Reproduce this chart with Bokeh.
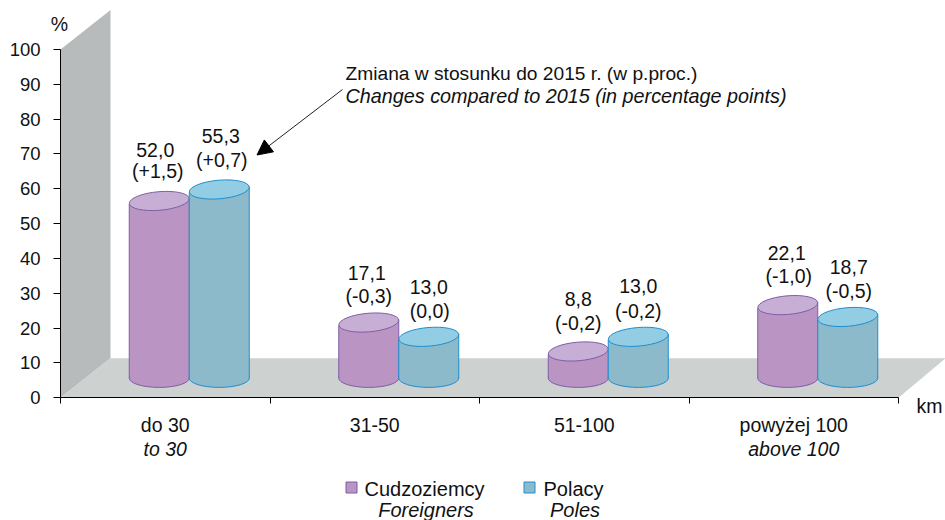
from bokeh.plotting import figure
from bokeh.embed import file_html
from bokeh.resources import INLINE
from bokeh.models import Range1d, LinearAxis, FixedTicker, Arrow, NormalHead
from bokeh.core.properties import value

# --- data ---------------------------------------------------------------
categories_pl = ["do 30", "31-50", "51-100", "powyżej 100"]
categories_en = ["to 30", "above 100"]
categories_en_at = [0, 3]
foreigners = [52.0, 17.1, 8.8, 22.1]
poles = [55.3, 13.0, 13.0, 18.7]
foreigners_change = ["(+1,5)", "(-0,3)", "(-0,2)", "(-1,0)"]
poles_change = ["(+0,7)", "(0,0)", "(-0,2)", "(-0,5)"]
foreigners_labels = ["52,0", "17,1", "8,8", "22,1"]
poles_labels = ["55,3", "13,0", "13,0", "18,7"]
y_ticks = [0, 10, 20, 30, 40, 50, 60, 70, 80, 90, 100]

# --- layout -------------------------------------------------------------
W, H = 945, 520
PAGE = 0
X0, X_UNIT = 60.0, 209.5      # page px of axis origin, px per category
Y0, Y_UNIT = 397.3, 3.483     # page px of value 0, px per percentage point
DEPTH_PX = (50.0, 39.5)
FONT = "Liberation Sans"
FS = "19.5px"
INK = "#111111"

def dx(px):  # page px -> data x
    return (px - X0) / X_UNIT
def dy(py):  # page py -> data y
    return (Y0 - py) / Y_UNIT

p = figure(width=W, height=H, output_backend="svg", toolbar_location=None,
           x_range=Range1d(dx(PAGE), dx(PAGE + W)),
           y_range=Range1d(dy(PAGE + H), dy(PAGE)),
           x_axis_type=None, y_axis_type=None,
           min_border=0, min_border_left=0, min_border_right=0,
           min_border_top=0, min_border_bottom=0, outline_line_color=None)
p.xgrid.visible = False
p.ygrid.visible = False

dpx, dpy = DEPTH_PX[0] / X_UNIT, DEPTH_PX[1] / Y_UNIT

# wall and floor
p.patch([0, dpx, dpx, 0], [100, 100 + dpy, dpy, 0], fill_color="#B7BBBB", line_color=None)
p.patch([0, dpx, dx(945), 4], [0, dpy, dpy, 0], fill_color="#CDD1D0", line_color=None)

# cylinders
BAR_W = 60.0
ELL_H = 18.6
TILT = 0.085
BASE_PX = 19.7      # bottom ellipse centre above the axis
TOP_SHIFT = 15.7    # top ellipse centre above the axis at value 0
GROUP_SHIFT = 24.0

def cylinder(vals, shift, fill, top_fill, edge):
    xc = [i + 0.5 + (GROUP_SHIFT + shift) / X_UNIT for i in range(len(vals))]
    base = [BASE_PX / Y_UNIT] * len(vals)
    top = [v + TOP_SHIFT / Y_UNIT for v in vals]
    hw = BAR_W / 2 / X_UNIT
    t = 3.0 / Y_UNIT
    p.ellipse(xc, base, width=BAR_W, height=ELL_H, width_units="screen", height_units="screen",
              fill_color=fill, line_color=edge, line_width=1)
    xs = [[x - hw, x - hw, x + hw, x + hw] for x in xc]
    ys = [[b, tp - t, tp + t, b] for b, tp in zip(base, top)]
    p.patches(xs, ys, fill_color=fill, line_color=None)
    p.segment([x - hw for x in xc], base, [x - hw for x in xc], [tp - t for tp in top], line_color=edge, line_width=1)
    p.segment([x + hw for x in xc], base, [x + hw for x in xc], [tp + t for tp in top], line_color=edge, line_width=1)
    p.ellipse(xc, top, width=BAR_W, height=ELL_H, angle=TILT, width_units="screen", height_units="screen",
              fill_color=top_fill, line_color=edge, line_width=1)
    return xc, top

PURPLE, PURPLE_TOP, PURPLE_EDGE = "#BA94C3", "#C6AED5", "#7D5FA5"
BLUE, BLUE_TOP, BLUE_EDGE = "#8DBACB", "#93CDE3", "#1E8ECF"
xf, tf = cylinder(foreigners, -30, PURPLE, PURPLE_TOP, PURPLE_EDGE)
xp, tp = cylinder(poles, 30, BLUE, BLUE_TOP, BLUE_EDGE)

def txt(x, y, s, italic=False, align="center", size=FS, **kw):
    p.text(x, y, text=s, text_font=value(FONT), text_font_size=value(size),
           text_align=align, text_baseline="middle", text_color=INK,
           text_font_style="italic" if italic else "normal", **kw)

# value labels anchored on the bar tops
for xc, tops, labs, chg, ox1, ox2, oy1, oy2 in [
    (xf, tf, foreigners_labels, foreigners_change, [-4, -2, 0, -1], [-1.5, 0, 0, 1],
     [-51, -50, -52, -52], [-30, -27, -28, -29]),
    (xp, tp, poles_labels, poles_change, [1.5, 0, 0, 1], [2.5, 1, 0, 1],
     [-53, -50, -51, -50], [-29, -26, -26, -26]),
]:
    txt([x + o / X_UNIT for x, o in zip(xc, ox1)], tops, labs, y_offset=oy1)
    txt([x + o / X_UNIT for x, o in zip(xc, ox2)], tops, chg, y_offset=oy2)

# axes on the frame
yax = LinearAxis(ticker=FixedTicker(ticks=y_ticks), fixed_location=0, bounds=(0, 100),
                 axis_line_color="#000000", major_tick_line_color="#000000",
                 major_tick_in=0, major_tick_out=7, minor_tick_line_color=None,
                 major_label_text_font=FONT, major_label_text_font_size="18.5px",
                 major_label_text_color=INK, major_label_standoff=13)
p.add_layout(yax, "left")
xax = LinearAxis(ticker=FixedTicker(ticks=[0, 1, 2, 3, 4]), fixed_location=0, bounds=(0, 4),
                 axis_line_color="#000000", major_tick_line_color="#000000",
                 major_tick_in=0, major_tick_out=6, minor_tick_line_color=None,
                 major_label_overrides={0: "", 1: "", 2: "", 3: "", 4: ""})
p.add_layout(xax, "below")

# category labels, unit labels
cx = [i + 0.5 for i in range(4)]
txt(cx, [dy(424.5)] * 4, categories_pl)
txt([cx[i] for i in categories_en_at], [dy(448.5)] * 2, categories_en, italic=True)
txt([dx(59)], [dy(23)], ["%"])
txt([dx(929)], [dy(405)], ["km"])

# annotation and arrow
txt([dx(345)], [dy(73)], ["Zmiana w stosunku do 2015 r. (w p.proc.)"], align="left", size="19.2px")
txt([dx(345)], [dy(95)], ["Changes compared to 2015 (in percentage points)"], italic=True, align="left", size="19.8px")
p.add_layout(Arrow(end=NormalHead(size=15, fill_color="#000000", line_color="#000000"),
                   x_start=dx(342), y_start=dy(89), x_end=dx(256.5), y_end=dy(154.5),
                   line_color="#222222", line_width=1))

# legend
p.scatter([dx(351)], [dy(487)], marker="square", size=11, fill_color=PURPLE, line_color=PURPLE_EDGE)
p.scatter([dx(529)], [dy(487)], marker="square", size=11, fill_color=BLUE, line_color=BLUE_EDGE)
txt([dx(364)], [dy(488.5)], ["Cudzoziemcy"], align="left", size="20px")
txt([dx(543)], [dy(488.5)], ["Polacy"], align="left", size="20px")
txt([dx(425.5)], [dy(509.5)], ["Foreigners"], italic=True, size="20px")
txt([dx(574.5)], [dy(509.5)], ["Poles"], italic=True, size="20px")

open("out.html", "w").write(file_html(p, INLINE))
